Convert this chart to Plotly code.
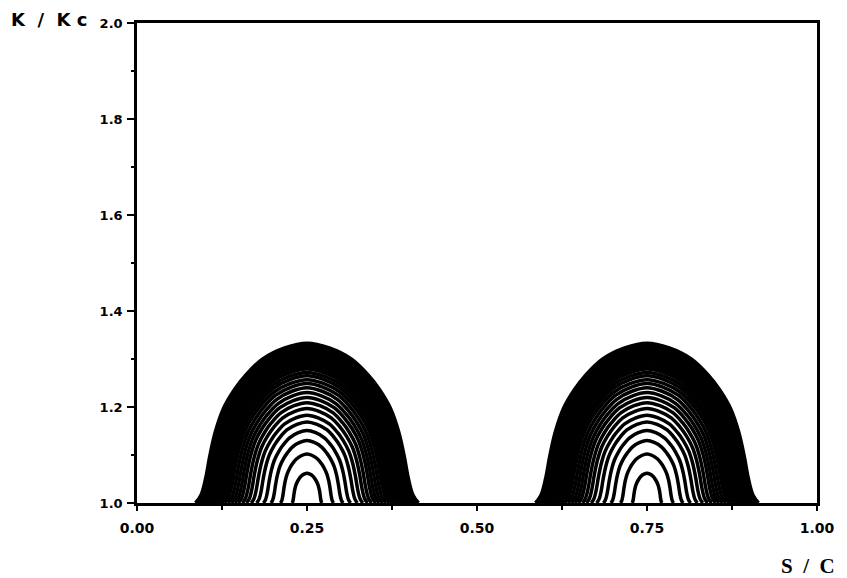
import plotly.graph_objects as go

# Peak centres of the two lobes (S/C)
lobe_centres = [0.25, 0.75]

# Height of each curve above K/Kc = 1 at its peak, innermost first
peak_rise = [0.062, 0.102, 0.130, 0.151, 0.169, 0.183, 0.197, 0.209, 0.220, 0.230,
             0.240, 0.249, 0.257, 0.265, 0.272, 0.279, 0.285, 0.291, 0.296, 0.301,
             0.306, 0.310, 0.314, 0.318, 0.322, 0.326, 0.330, 0.333]

# Half-width of each curve where it meets K/Kc = 1
base_halfwidth = [0.022, 0.039, 0.053, 0.064, 0.074, 0.082, 0.089, 0.095, 0.101, 0.106,
                  0.111, 0.116, 0.121, 0.125, 0.129, 0.133, 0.137, 0.140, 0.143, 0.146,
                  0.149, 0.152, 0.154, 0.156, 0.158, 0.160, 0.162, 0.164]

# Normalised arch profile: offset from centre (fraction of half-width) vs rise (fraction of peak)
profile_u = [0.0, 0.20, 0.40, 0.55, 0.65, 0.75, 0.82, 0.87, 0.91, 0.95, 1.0]
profile_v = [1.0, 0.97, 0.90, 0.80, 0.71, 0.59, 0.45, 0.30, 0.15, 0.05, 0.0]

x_ticks = [0.0, 0.25, 0.5, 0.75, 1.0]
x_tick_text = ["0.00", "0.25", "0.50", "0.75", "1.00"]

# Full symmetric profile (left foot -> peak -> right foot)
full_u = [-u for u in profile_u[::-1]] + profile_u[1:]
full_v = profile_v[::-1] + profile_v[1:]

fig = go.Figure()
for c in lobe_centres:
    for h, w in zip(peak_rise, base_halfwidth):
        fig.add_trace(go.Scatter(
            x=[c + w * u for u in full_u],
            y=[1.0 + h * v for v in full_v],
            mode="lines",
            line=dict(color="black", width=3.5, shape="spline", smoothing=1.0),
            hoverinfo="skip",
            showlegend=False,
        ))

tick_font = dict(family="DejaVu Sans", size=13, color="black", weight="bold")

fig.update_xaxes(
    range=[0, 1],
    tickvals=x_ticks,
    ticktext=x_tick_text,
    ticks="outside", ticklen=5, tickwidth=2, tickcolor="black",
    minor=dict(dtick=0.125, tick0=0, ticks="outside", ticklen=4, tickwidth=2, tickcolor="black"),
    showline=True, linewidth=2.5, linecolor="black", mirror=True,
    showgrid=False, zeroline=False,
    tickfont=dict(family="DejaVu Sans", size=14, color="black", weight="bold"),
    ticklabelstandoff=5,
)
fig.update_yaxes(
    range=[1, 2],
    dtick=0.2, tick0=1.0, tickformat=".1f",
    ticks="outside", ticklen=7, tickwidth=2, tickcolor="black",
    minor=dict(dtick=0.1, tick0=1.0, ticks="outside", ticklen=3, tickwidth=2, tickcolor="black"),
    showline=True, linewidth=2.5, linecolor="black", mirror=True,
    showgrid=False, zeroline=False,
    tickfont=tick_font,
    ticklabelstandoff=2,
)

fig.add_annotation(
    text="K  /  K c", xref="paper", yref="paper",
    x=(8 - 137) / 685, y=(503 - 20) / 480,
    xanchor="left", yanchor="middle", showarrow=False,
    font=dict(family="DejaVu Sans", size=18, color="black", weight="bold"),
)
fig.add_annotation(
    text="S  /  C", xref="paper", yref="paper",
    x=(842 - 137) / 685, y=(503 - 566) / 480,
    xanchor="right", yanchor="middle", showarrow=False,
    font=dict(family="Liberation Serif", size=21, color="black", weight="bold"),
)

fig.update_layout(
    width=847, height=578,
    margin=dict(l=137, r=25, t=23, b=75),
    paper_bgcolor="white", plot_bgcolor="white",
)

fig.write_html("out.html")
